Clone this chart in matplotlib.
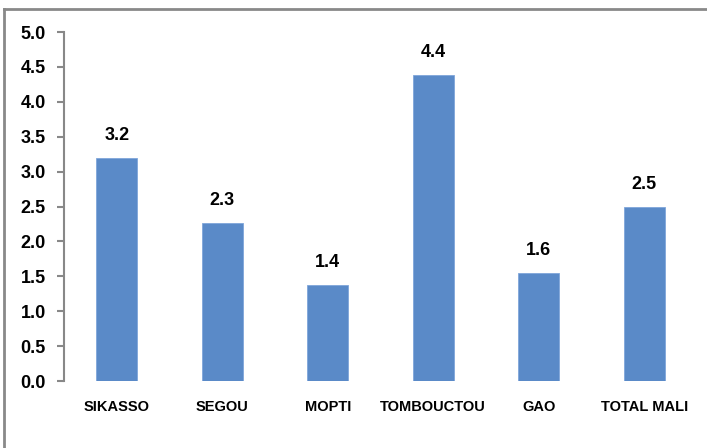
import matplotlib.pyplot as plt
from matplotlib.lines import Line2D

regions = ['SIKASSO', 'SEGOU', 'MOPTI', 'TOMBOUCTOU', 'GAO', 'TOTAL MALI']
values = [3.19, 2.26, 1.37, 4.39, 1.55, 2.49]
labels = ['3.2', '2.3', '1.4', '4.4', '1.6', '2.5']
y_ticks = [0.0, 0.5, 1.0, 1.5, 2.0, 2.5, 3.0, 3.5, 4.0, 4.5, 5.0]

W, H = 707, 448
fig = plt.figure(figsize=(W / 100, H / 100), dpi=100)
ax = fig.add_axes([64 / W, 1 - 381 / H, (697 - 64) / W, (381 - 32) / H])

x = range(len(regions))
ax.bar(x, values, width=0.39, color='#5A8AC8', edgecolor='#7FA6DA', linewidth=0.6)

for i, v in enumerate(values):
    ax.annotate(labels[i], (i, v), xytext=(0, 10), textcoords='offset points',
                ha='center', va='bottom', fontsize=13, fontweight='bold',
                family='Liberation Sans')

ax.set_xlim(-0.5, len(regions) - 0.5)
ax.set_ylim(0, 5.0)
ax.set_yticks(y_ticks)
ax.set_yticklabels(['%.1f' % t for t in y_ticks], fontsize=13, fontweight='bold',
                   family='Liberation Sans')
ax.set_xticks(list(x))
ax.set_xticklabels(regions, fontsize=10.5, fontweight='bold', family='Liberation Sans')

for s in ['top', 'right', 'bottom']:
    ax.spines[s].set_visible(False)
ax.spines['left'].set_color('#888888')
ax.spines['left'].set_linewidth(1.5)
ax.tick_params(axis='y', length=5, width=1.5, color='#888888', pad=8)
ax.tick_params(axis='x', length=0, pad=14)

# chart border (only left and top visible in the crop)
fig.add_artist(Line2D([4 / W, 4 / W], [0, 1 - 9 / H], color='#898989', lw=2,
                      transform=fig.transFigure))
fig.add_artist(Line2D([4 / W, 1], [1 - 9 / H, 1 - 9 / H], color='#898989', lw=2,
                      transform=fig.transFigure))

fig.savefig('out.png', dpi=100)
